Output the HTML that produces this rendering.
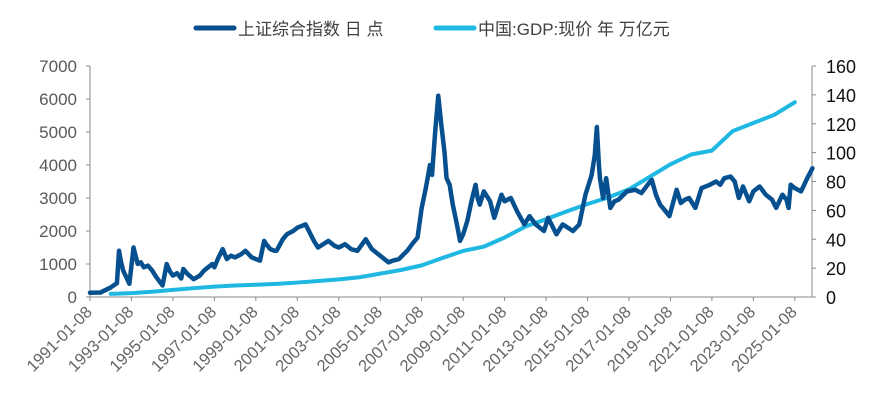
<!DOCTYPE html>
<html><head><meta charset="utf-8"><style>
body{margin:0;background:#fff;width:877px;height:402px;overflow:hidden;font-family:"Liberation Sans","Noto Sans CJK SC",sans-serif}
</style></head><body>
<svg id="c" width="877" height="402" xmlns="http://www.w3.org/2000/svg">
<g>
<line x1="196" y1="28" x2="234" y2="28" stroke="#07508f" stroke-width="5" stroke-linecap="round"/>
<text x="238" y="35" font-size="17" fill="#404040">上证综合指数 日 点</text>
<line x1="436" y1="28" x2="474" y2="28" stroke="#1eb8e3" stroke-width="5" stroke-linecap="round"/>
<text x="478" y="35" font-size="17" fill="#404040">中国:GDP:现价 年 万亿元</text>
</g>
<g id="axes"></g>
<g id="series"></g>
</svg>
<script>
const idxDates=[1991.0,1991.5,1992.0,1992.3,1992.4,1992.5,1992.6,1992.75,1992.9,1993.1,1993.2,1993.3,1993.45,1993.6,1993.8,1994.0,1994.2,1994.5,1994.7,1994.85,1995.0,1995.2,1995.4,1995.5,1995.7,1995.85,1996.0,1996.3,1996.5,1996.7,1996.9,1997.0,1997.2,1997.4,1997.6,1997.8,1998.0,1998.3,1998.5,1998.8,1999.0,1999.2,1999.4,1999.5,1999.7,1999.9,2000.0,2000.3,2000.5,2000.8,2001.0,2001.2,2001.4,2001.6,2001.8,2002.0,2002.5,2002.8,2003.0,2003.3,2003.6,2003.9,2004.3,2004.6,2004.8,2005.1,2005.4,2005.6,2005.9,2006.3,2006.6,2006.8,2007.0,2007.2,2007.4,2007.5,2007.65,2007.8,2007.95,2008.1,2008.2,2008.35,2008.5,2008.7,2008.85,2009.0,2009.2,2009.4,2009.6,2009.7,2009.8,2010.0,2010.3,2010.5,2010.85,2011.0,2011.3,2011.6,2011.95,2012.2,2012.5,2012.9,2013.1,2013.5,2013.8,2014.3,2014.6,2014.9,2015.0,2015.2,2015.35,2015.45,2015.55,2015.6,2015.75,2015.9,2016.1,2016.3,2016.5,2016.9,2017.3,2017.6,2017.9,2018.1,2018.3,2018.5,2018.7,2018.95,2019.3,2019.5,2019.7,2019.9,2020.2,2020.5,2020.9,2021.2,2021.4,2021.6,2021.9,2022.1,2022.3,2022.5,2022.8,2023.0,2023.3,2023.6,2023.9,2024.1,2024.4,2024.6,2024.7,2024.8,2025.0,2025.3,2025.6,2025.85];
const idxValues=[130,135,290,420,1400,1050,800,600,400,1500,1250,1000,1050,900,950,800,600,350,1000,780,650,720,560,850,700,620,540,650,800,900,1000,900,1200,1450,1150,1250,1200,1300,1400,1200,1150,1100,1700,1600,1450,1400,1400,1750,1900,2000,2100,2150,2200,1950,1700,1500,1700,1550,1500,1600,1450,1400,1750,1450,1350,1200,1050,1100,1150,1400,1650,1800,2700,3300,4000,3700,5000,6100,5200,4400,3600,3400,2800,2200,1700,1900,2300,2900,3400,3000,2800,3200,2900,2400,3100,2900,3000,2600,2200,2450,2200,2000,2400,1900,2200,2000,2200,3100,3300,3700,4300,5150,4000,3600,3000,3600,2700,2900,2950,3200,3250,3150,3400,3550,3100,2800,2650,2450,3250,2850,2950,3000,2700,3300,3400,3500,3400,3600,3650,3500,3000,3350,2900,3200,3350,3100,2950,2700,3100,2950,2700,3400,3300,3200,3600,3900];
const gdpYears=[1991,1992,1993,1994,1995,1996,1997,1998,1999,2000,2001,2002,2003,2004,2005,2006,2007,2008,2009,2010,2011,2012,2013,2014,2015,2016,2017,2018,2019,2020,2021,2022,2023,2024];
const gdpValues=[2.2,2.7,3.6,4.9,6.1,7.2,8.0,8.5,9.1,10.0,11.1,12.2,13.7,16.2,18.7,21.9,27.0,31.9,34.9,41.2,48.8,53.9,59.3,64.4,68.9,74.6,83.2,91.9,98.7,101.4,114.9,120.5,126.1,134.9];
const leftTicks=[0,1000,2000,3000,4000,5000,6000,7000];
const rightTicks=[0,20,40,60,80,100,120,140,160];
const xTickYears=[1991,1993,1995,1997,1999,2001,2003,2005,2007,2009,2011,2013,2015,2017,2019,2021,2023,2025];

const X0=90,X1=812,Y0=297,Y1=66;
const x=t=>X0+(t-1991)*20.73;
const yl=v=>Y0-(v/7000)*(Y0-Y1);
const yr=v=>Y0-(v/160)*(Y0-Y1);
const NS="http://www.w3.org/2000/svg";
function mk(tag,attrs,parent){const e=document.createElementNS(NS,tag);for(const k in attrs)e.setAttribute(k,attrs[k]);parent.appendChild(e);return e;}
const ax=document.getElementById('axes'),se=document.getElementById('series');
let e=mk('line',{x1:X0,y1:Y1,x2:X0,y2:Y0,stroke:'#888'},ax);


e=mk('line',{x1:X1,y1:Y1,x2:X1,y2:Y0,stroke:'#888'},ax);


e=mk('line',{x1:X0,y1:Y0,x2:X1,y2:Y0,stroke:'#888'},ax);


leftTicks.forEach(v=>{const y=yl(v);mk('line',{x1:X0-4,y1:y,x2:X0,y2:y,stroke:'#888'},ax);
 const t=mk('text',{x:X0-13,y:y+6,'text-anchor':'end','font-size':17,fill:'#595959'},ax);t.textContent=v;
 
 });
rightTicks.forEach(v=>{const y=yr(v);mk('line',{x1:X1,y1:y,x2:X1+4,y2:y,stroke:'#888'},ax);
 const t=mk('text',{x:X1+14,y:y+7,'font-size':18,fill:'#111'},ax);t.textContent=v;
 
 });
xTickYears.forEach(yv=>{const xx=x(yv);mk('line',{x1:xx,y1:Y0,x2:xx,y2:Y0+4,stroke:'#888'},ax);
 const t=mk('text',{x:xx+3,y:Y0+16,'text-anchor':'end','font-size':16.5,fill:'#666',transform:`rotate(-45 ${xx+3} ${Y0+16})`},ax);t.textContent=yv+'-01-08';
 
 });
let p=mk('polyline',{points:gdpYears.map((yv,i)=>x(yv+1)+','+yr(gdpValues[i])).join(' '),fill:'none',stroke:'#1eb8e3','stroke-width':4,'stroke-linejoin':'round','stroke-linecap':'round'},se);


p=mk('polyline',{points:idxDates.map((d,i)=>x(d)+','+yl(idxValues[i])).join(' '),fill:'none',stroke:'#07508f','stroke-width':4.5,'stroke-linejoin':'round','stroke-linecap':'round'},se);


</script>
</body></html>
